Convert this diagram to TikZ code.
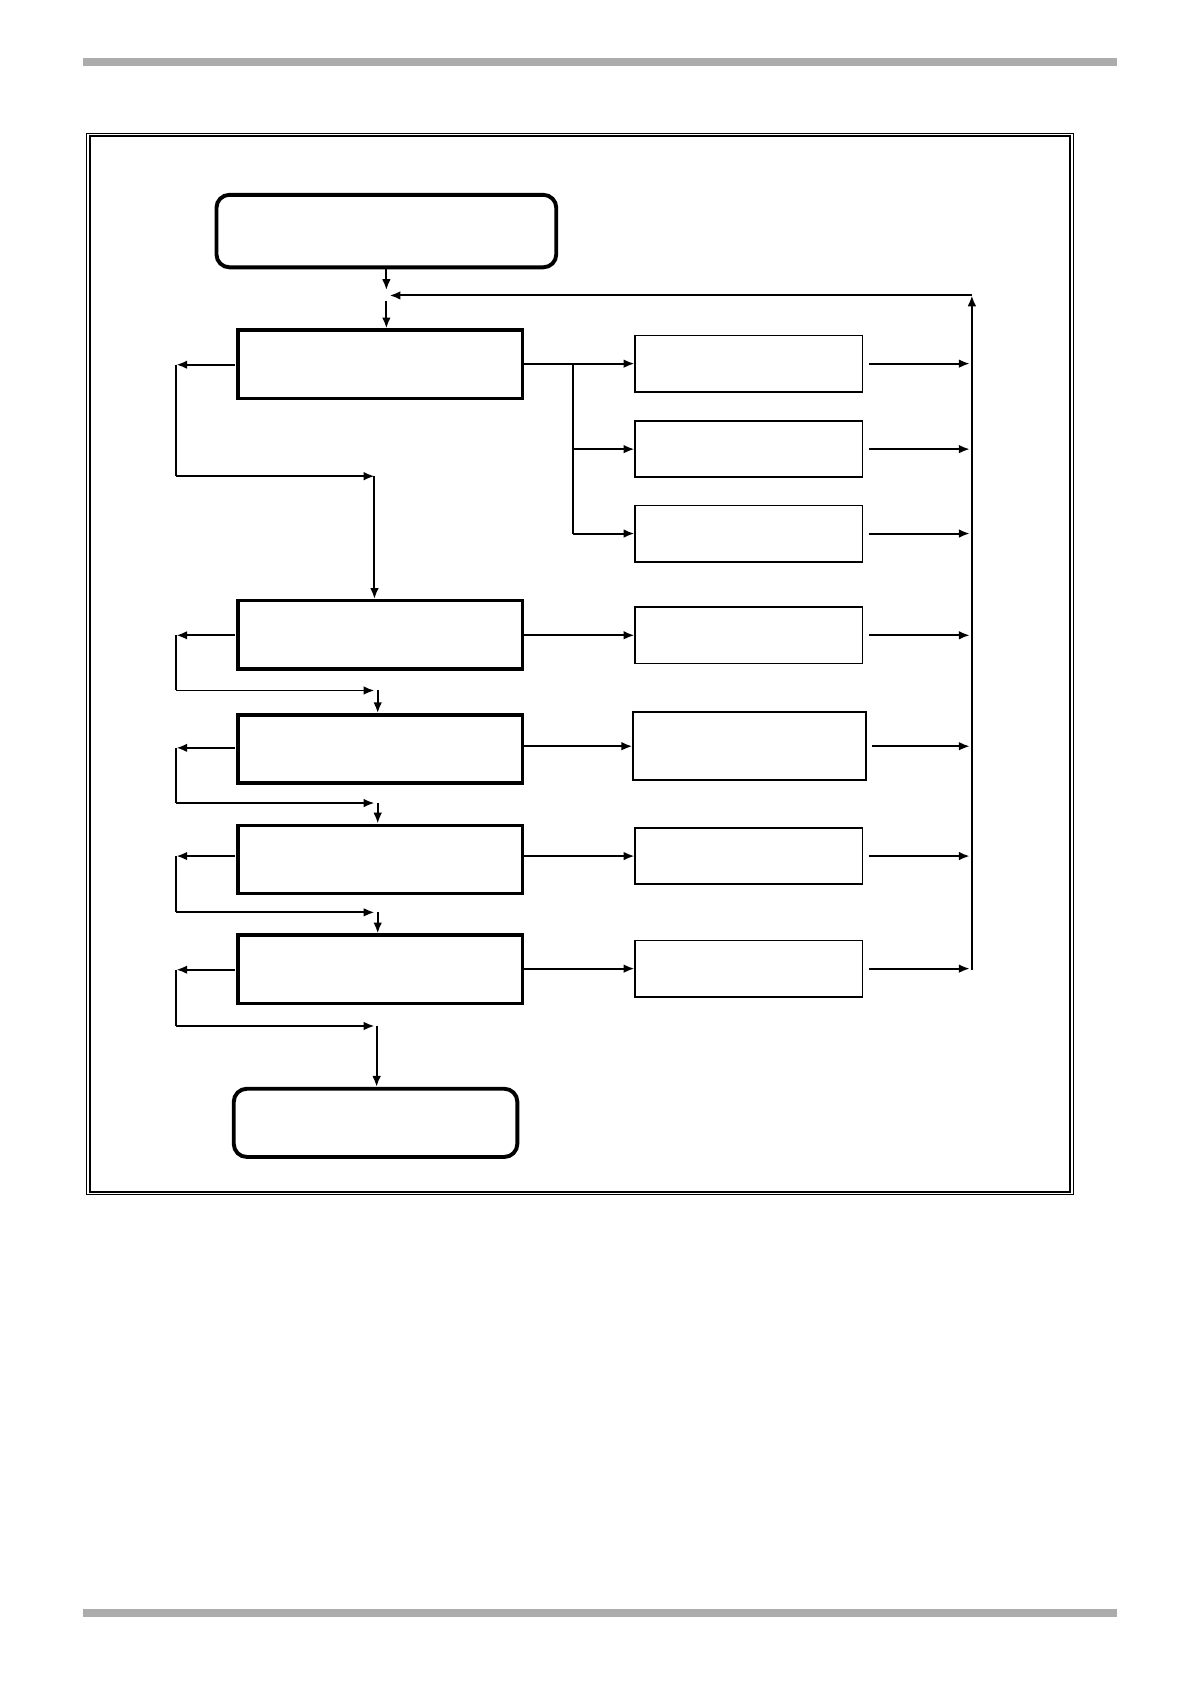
\documentclass[tikz,border=0pt]{standalone}
\usetikzlibrary{arrows.meta}
\begin{document}
\begin{tikzpicture}[x=0.5pt,y=-0.5pt,
  thickbox/.style={draw,line width=1.6pt},
  thinbox/.style={draw,line width=0.8pt},
  rbox/.style={draw,line width=1.8pt,rounded corners=6pt},
  arr/.style={-{Latex[length=5pt,width=4pt]},line width=0.9pt},
  ln/.style={line width=0.9pt}]
\useasboundingbox (0,0) rectangle (1100,1556);
\fill[gray!65] (77,54) rectangle (1032,61);
\fill[gray!65] (77,1487) rectangle (1032,1494);
\draw[line width=0.5pt] (80,123) rectangle (992,1104);
\draw[line width=0.9pt] (83,126) rectangle (989,1101);
\node[rbox,minimum width=157pt,minimum height=33.5pt] (start) at (357,213.5) {};
\node[rbox,minimum width=131pt,minimum height=31.5pt] (end) at (347,1037.5) {};
\coordinate (j) at (357,273);
\draw[arr] (start.south) -- (357,268);
\foreach \n/\y in {L1/336.5,L2/586.5,L3/692,L4/794,L5/895.5}
  \node[thickbox,minimum width=131.5pt,minimum height=31.5pt] (\n) at (351.5,\y) {};
\foreach \n/\y/\h in {R1/336/26,R2/415/26,R3/493/26,R4/587/26,R6/791/26,R7/895/26}
  \node[thinbox,minimum width=105pt,minimum height=\h pt] (\n) at (692,\y) {};
\node[thinbox,minimum width=107.5pt,minimum height=31.5pt] (R5) at (692.5,689.5) {};
\draw[arr] (357,278) -- (L1.north-|357,0);
% feedback
\coordinate (fb) at (898,273);
\draw[arr] (898,896) -- (fb);
\draw[arr] (fb) -- (360,273);
% branch from L1
\coordinate (b1) at (529,336);
\draw[ln] (L1.east|-b1) -- (b1) -- (529,493);
\draw[arr] (b1) -- (R1.west);
\draw[arr] (529,415) -- (R2.west);
\draw[arr] (529,493) -- (R3.west);
\foreach \a/\b in {L2/R4,L3/R5,L4/R6,L5/R7} \draw[arr] (\a.east|-\b.west) -- (\b.west);
\foreach \r in {R1,R2,R3,R4,R5,R6,R7} \draw[arr] ([xshift=2.5pt]\r.east) -- (896,0|-\r.east);
% left loops
\draw[arr] (217,337) -- (163,337);
\draw[ln] (163,337) -- (163,440);
\draw[arr] (163,440) -- (346,440);
\draw[arr] (346,440) -- (L2.north-|346,0);
\foreach \y/\yb/\t in {587/638/L3,691/742/L4,791/843/L5}{
  \draw[arr] (217,\y) -- (163,\y);
  \draw[ln] (163,\y) -- (163,\yb);
  \draw[arr] (163,\yb) -- (346,\yb);
  \draw[arr] (349,\yb) -- (\t.north-|349,0);
}
\draw[arr] (217,896) -- (163,896);
\draw[ln] (163,896) -- (163,948);
\draw[arr] (163,948) -- (346,948);
\draw[arr] (348,948) -- (end.north-|348,0);
\end{tikzpicture}
\end{document}
